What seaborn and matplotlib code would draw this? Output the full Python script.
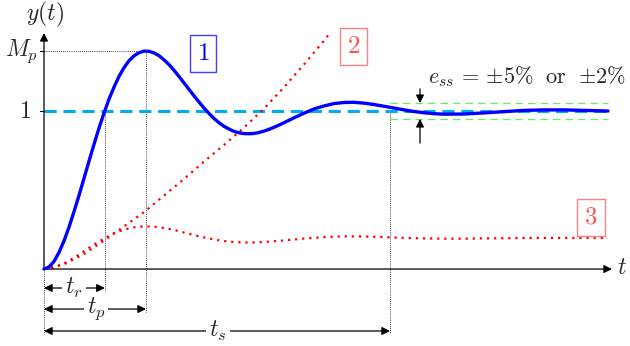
import numpy as np
import pandas as pd
import seaborn as sns
import matplotlib.pyplot as plt

# --- values ---
# curve 1: underdamped step response
t1 = [0, 0.125, 0.25, 0.375, 0.5, 0.625, 0.75, 0.875, 1.0, 1.125, 1.25, 1.375,
      1.5, 1.625, 1.75, 1.875, 2.0, 2.125, 2.25, 2.375, 2.5, 2.625, 2.75, 2.875,
      3.0, 3.125, 3.25, 3.375, 3.5, 3.625, 3.75, 3.875, 4.0, 4.125, 4.25, 4.375,
      4.5, 4.625, 4.75, 4.875, 5.0, 5.125, 5.25, 5.375, 5.5, 5.625, 5.75, 5.875,
      6.0, 6.25, 6.5, 6.75, 7.0, 7.25, 7.5, 7.75, 8.0, 8.25, 8.5, 8.75, 9.0,
      9.25, 9.5, 9.75, 10.0, 10.5, 11.0, 11.5, 12.0, 12.5, 13.0, 13.5, 14.1]
y1 = [0, 0.013, 0.048, 0.105, 0.178, 0.265, 0.363, 0.466, 0.574, 0.683, 0.789,
      0.892, 0.987, 1.075, 1.151, 1.219, 1.274, 1.318, 1.349, 1.369, 1.379, 1.378,
      1.368, 1.350, 1.324, 1.294, 1.258, 1.219, 1.178, 1.137, 1.096, 1.057, 1.019,
      0.985, 0.953, 0.926, 0.903, 0.886, 0.871, 0.862, 0.857, 0.856, 0.858, 0.864,
      0.873, 0.884, 0.897, 0.911, 0.926, 0.957, 0.986, 1.013, 1.032, 1.047, 1.054,
      1.055, 1.050, 1.041, 1.030, 1.019, 1.007, 0.997, 0.989, 0.983, 0.980, 0.981,
      0.988, 0.996, 1.004, 1.007, 1.007, 1.004, 1.0]

# curve 2: diverging response
t2 = [0, 0.5, 1.0, 1.5, 2.0, 2.5, 3.0, 3.5, 4.0, 4.5, 5.0, 5.5, 6.0, 6.5, 7.0, 7.15]
y2 = [0, 0.03, 0.095, 0.18, 0.27, 0.36, 0.465, 0.57, 0.68, 0.785, 0.895, 1.015,
      1.15, 1.295, 1.445, 1.495]

# curve 3: small-gain response
t3 = [0, 0.25, 0.5, 0.75, 1.0, 1.25, 1.5, 1.75, 2.0, 2.25, 2.5, 2.75, 3.0, 3.25,
      3.5, 3.75, 4.0, 4.25, 4.5, 4.75, 5.0, 5.25, 5.5, 5.75, 6.0, 6.5, 7.0, 7.5,
      8.0, 8.5, 9.0, 9.5, 10.0, 10.5, 11.0, 11.5, 12.0, 12.5, 13.0, 13.5, 14.1]
y3 = [0, 0.009, 0.035, 0.071, 0.112, 0.155, 0.193, 0.226, 0.25, 0.264, 0.270,
      0.268, 0.26, 0.247, 0.231, 0.215, 0.2, 0.187, 0.177, 0.171, 0.168, 0.168,
      0.171, 0.176, 0.181, 0.193, 0.202, 0.207, 0.206, 0.202, 0.197, 0.194, 0.192,
      0.192, 0.194, 0.195, 0.197, 0.197, 0.197, 0.197, 0.196]

t_r, t_p, t_s = 1.52, 2.55, 8.65
M_p = 1.379
band = 0.05

df = pd.concat([
    pd.DataFrame({"t": t1, "y": y1, "curve": "1"}),
    pd.DataFrame({"t": t2, "y": y2, "curve": "2"}),
    pd.DataFrame({"t": t3, "y": y3, "curve": "3"}),
])

sns.set_theme(style="white")
plt.rcParams["mathtext.fontset"] = "cm"
plt.rcParams["font.family"] = ["DejaVu Serif"]

fig = plt.figure(figsize=(6.3, 3.46), dpi=100)
ax = fig.add_axes([0, 0, 1, 1])

# reference level and tolerance band
ax.plot([0, 14.1], [1, 1], color="#00AEEF", lw=2.2, dashes=(4, 2.2), zorder=2)
for lev in (1 + band, 1 - band):
    ax.plot([t_s, 14.1], [lev, lev], color="#66EE66", lw=0.9, dashes=(6, 4), zorder=2)

sns.lineplot(data=df[df.curve == "1"], x="t", y="y", color="#0000FF", lw=2.4,
             ax=ax, zorder=4, legend=False)
for c in ("2", "3"):
    sns.lineplot(data=df[df.curve == c], x="t", y="y", color="#FF0000", lw=1.6,
                 ax=ax, zorder=3, legend=False, linestyle=(0, (1, 2.2)))
ax.set_xlim(-1.1, 14.65)
ax.set_ylim(-0.487, 1.7025)
ax.axis("off")

# axes with arrows
head = dict(color="black", lw=0.9, mutation_scale=12, shrinkA=0, shrinkB=0)
ax.annotate("", xy=(14.2, 0), xytext=(0, 0), arrowprops=dict(arrowstyle="-|>", **head))
ax.annotate("", xy=(0, 1.494), xytext=(0, 0), arrowprops=dict(arrowstyle="-|>", **head))
ax.text(14.45, 0.01, "$t$", fontsize=17, ha="center", va="center")
ax.text(0.02, 1.61, "$y(t)$", fontsize=17, ha="center", va="center")

# y ticks
for lev in (M_p, 1):
    ax.plot([-0.1, 0], [lev, lev], color="black", lw=0.8)
ax.text(-0.16, M_p, "$M_p$", fontsize=17, ha="right", va="center")
ax.text(-0.47, 1, "$1$", fontsize=17, ha="center", va="center")

# dotted guides
dot = dict(color="black", lw=0.6, linestyle=(0, (1, 1.5)), zorder=1)
ax.plot([0, t_p], [M_p, M_p], **dot)
ax.plot([t_r, t_r], [1, -0.146], **dot)
ax.plot([t_p, t_p], [M_p, -0.272], **dot)
ax.plot([t_s, t_s], [1, -0.411], **dot)
ax.plot([0, 0], [0, -0.411], **dot)

# time markers
for end, row, lab, mid in ((t_r, -0.12, "$t_r$", 0.75),
                           (t_p, -0.253, "$t_p$", 1.3),
                           (t_s, -0.392, "$t_s$", 4.35)):
    ax.annotate("", xy=(end, row), xytext=(0, row),
                arrowprops=dict(arrowstyle="<|-|>", **head))
    ax.text(mid, row, lab, fontsize=17, ha="center", va="center",
            bbox=dict(facecolor="white", edgecolor="none", pad=2))

# steady state error arrows
ax.annotate("", xy=(9.4, 1 + band), xytext=(9.4, 1.14),
            arrowprops=dict(arrowstyle="-|>", **head))
ax.annotate("", xy=(9.4, 1 - band), xytext=(9.4, 0.797),
            arrowprops=dict(arrowstyle="-|>", **head))
ax.text(9.6, 1.215, r"$e_{ss}\,=\,{\pm}5\%\ \ \mathrm{or}\ \ {\pm}2\%$", fontsize=16,
        ha="left", va="center")

# curve labels
box = dict(facecolor="white", pad=5, lw=1)
ax.text(3.975, 1.361, "$1$", fontsize=18, color="#0000FF", ha="center", va="center",
        bbox=dict(edgecolor="#4040FF", **box))
ax.text(7.74, 1.411, "$2$", fontsize=18, color="#FF5050", ha="center", va="center",
        bbox=dict(edgecolor="#FF8080", **box))
ax.text(13.675, 0.329, "$3$", fontsize=18, color="#FF5050", ha="center", va="center",
        bbox=dict(edgecolor="#FF8080", **box))

fig.savefig("out.png", dpi=100)
